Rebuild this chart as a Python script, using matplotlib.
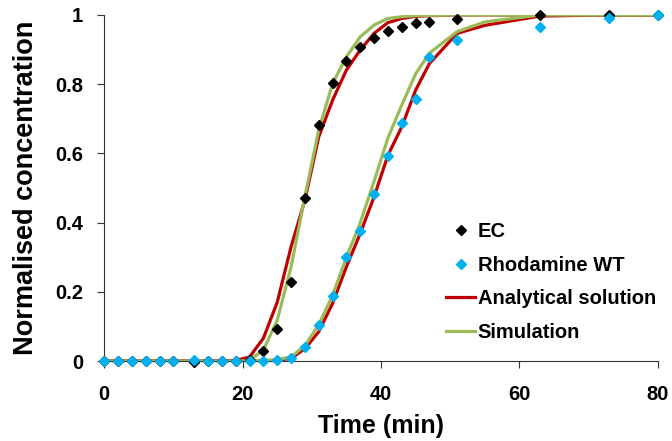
import matplotlib.pyplot as plt

# measured data (time in min, normalised concentration)
t_obs = [0, 2, 4, 6, 8, 10, 13, 15, 17, 19, 21, 23, 25, 27, 29, 31, 33, 35,
         37, 39, 41, 43, 45, 47, 51, 63, 73, 80]
ec_obs = [0, 0, 0, 0, 0, 0, -0.003, 0, 0, 0, 0.002, 0.029, 0.092, 0.229, 0.472,
          0.682, 0.805, 0.867, 0.908, 0.934, 0.954, 0.965, 0.976, 0.981, 0.988,
          0.999, 1.0, 1.0]
rwt_obs = [0, 0, 0, 0, 0, 0, 0.003, 0, 0, 0, 0, 0, 0.003, 0.008, 0.041, 0.104,
           0.189, 0.302, 0.377, 0.484, 0.594, 0.687, 0.758, 0.879, 0.929,
           0.966, 0.991, 1.0]

# model curves
t_mod = [0, 5, 10, 15, 19, 21, 23, 25, 27, 29, 31, 33, 35, 37, 39, 41, 43, 45,
         47, 51, 55, 63, 73, 80]
ec_ana = [0, 0, 0, 0, 0.002, 0.012, 0.066, 0.17, 0.33, 0.465, 0.648, 0.754,
          0.841, 0.899, 0.947, 0.978, 0.99, 0.996, 0.998, 1.0, 1.0, 1.0, 1.0, 1.0]
ec_sim = [0, 0, 0, 0, 0, 0.003, 0.032, 0.118, 0.272, 0.475, 0.668, 0.802,
          0.879, 0.937, 0.971, 0.99, 0.995, 0.998, 0.999, 1.0, 1.0, 1.0, 1.0, 1.0]
rwt_ana = [0, 0, 0, 0, 0, 0, 0, 0.003, 0.008, 0.036, 0.085, 0.167, 0.273,
           0.369, 0.475, 0.595, 0.677, 0.783, 0.86, 0.947, 0.97, 0.997, 1.0, 1.0]
rwt_sim = [0, 0, 0, 0, 0, 0, 0.002, 0.005, 0.012, 0.045, 0.105, 0.19, 0.30,
           0.40, 0.52, 0.645, 0.74, 0.83, 0.89, 0.952, 0.98, 1.0, 1.0, 1.0]

red = '#C00000'
green = '#9BBB59'
blue = '#00B0F0'

plt.rcParams['font.family'] = ['Liberation Sans', 'DejaVu Sans']
plt.rcParams['font.weight'] = 'bold'

fig = plt.figure(figsize=(6.72, 4.41), dpi=100)
ax = fig.add_axes([0.155, 0.181, 0.824, 0.785])

ax.plot(t_mod, ec_ana, color=red, lw=2.3, label='Analytical solution', zorder=2)
ax.plot(t_mod, ec_sim, color=green, lw=2.3, label='Simulation', zorder=2)
ax.plot(t_mod, rwt_ana, color=red, lw=2.3, zorder=2)
ax.plot(t_mod, rwt_sim, color=green, lw=2.3, zorder=2)
ax.plot(t_obs, ec_obs, 'D', color='black', ms=5.3, ls='none', label='EC',
        clip_on=False, zorder=3)
ax.plot(t_obs, rwt_obs, 'D', color=blue, ms=5.3, ls='none', label='Rhodamine WT',
        clip_on=False, zorder=4)

ax.set_xlim(0, 80)
ax.set_ylim(0, 1)
ax.set_xticks([0, 20, 40, 60, 80])
ax.set_yticks([0, 0.2, 0.4, 0.6, 0.8, 1])
ax.set_yticklabels(['0', '0.2', '0.4', '0.6', '0.8', '1'])
ax.spines['top'].set_visible(False)
ax.spines['right'].set_visible(False)
for s in ['left', 'bottom']:
    ax.spines[s].set_color('#333333')
ax.tick_params(labelsize=14.5, length=5, color='#333333')
ax.tick_params(axis='x', pad=12)
ax.tick_params(axis='y', pad=10)
ax.set_xlabel('Time (min)', fontsize=18, fontweight='bold', labelpad=7)
ax.set_ylabel('Normalised concentration', fontsize=19.5, fontweight='bold', labelpad=12)

h, l = ax.get_legend_handles_labels()
order = [2, 3, 0, 1]
ax.legend([h[i] for i in order], [l[i] for i in order], loc='upper left',
          bbox_to_anchor=(0.6, 0.43), frameon=False, fontsize=14.5,
          handlelength=1.4, handletextpad=0.15, labelspacing=0.72, borderpad=0)

fig.savefig('out.png', dpi=100)
